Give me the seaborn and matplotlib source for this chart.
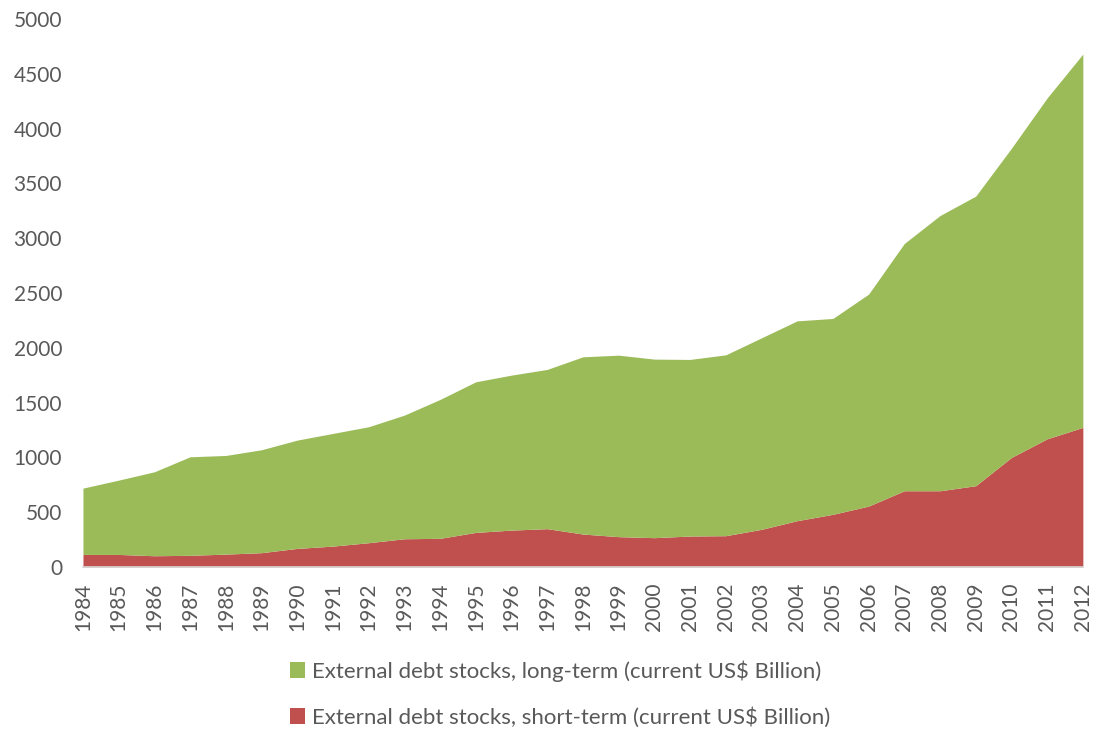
import matplotlib
matplotlib.use("Agg")
import matplotlib.pyplot as plt
from matplotlib.patches import Patch
import seaborn as sns
import pandas as pd

years = list(range(1984, 2013))
total = [720, 793, 869, 1006, 1018, 1070, 1158, 1219, 1280, 1386, 1529, 1690, 1751, 1803,
         1918, 1933, 1897, 1894, 1936, 2091, 2246, 2268, 2490, 2952, 3207, 3384, 3821, 4280, 4680]
short_term = [115, 115, 103, 107, 118, 131, 170, 191, 222, 258, 262, 316, 337, 350,
              301, 277, 268, 283, 286, 344, 423, 481, 556, 696, 696, 742, 1000, 1170, 1274]
long_term = [t - s for t, s in zip(total, short_term)]
labels = ["External debt stocks, long-term (current US$ Billion)",
          "External debt stocks, short-term (current US$ Billion)"]

df = pd.DataFrame({"year": years, "short": short_term, "long": long_term})

sns.set_theme(style="white")
plt.rcParams['font.family'] = ['Lato', 'DejaVu Sans']

green = "#9BBB59"
red = "#C0504D"
txt = "#595959"

fig = plt.figure(figsize=(10.96, 7.31), dpi=100)
ax = fig.add_axes([0.0757, 0.2243, 0.9123, 0.7497])

ax.stackplot(df["year"], df["short"], df["long"], colors=[red, green], linewidth=0)

ax.set_xlim(1984, 2012)
ax.set_ylim(0, 5000)
ax.set_yticks(range(0, 5001, 500))
ax.set_xticks(years)
ax.set_xticklabels([str(y) for y in years], rotation=90)
ax.tick_params(axis="both", length=0, labelsize=15, colors=txt)
ax.tick_params(axis="y", pad=15)
ax.tick_params(axis="x", pad=11)
for s in ["top", "right", "left"]:
    ax.spines[s].set_visible(False)
ax.spines["bottom"].set_color("#d9d9d9")
ax.spines["bottom"].set_linewidth(1.2)

handles = [Patch(facecolor=green, edgecolor="none"), Patch(facecolor=red, edgecolor="none")]
leg = fig.legend(handles, labels, loc="upper center", bbox_to_anchor=(0.511, 0.097),
                 frameon=False, fontsize=16, handlelength=0.7, handleheight=0.7,
                 handletextpad=0.3, labelspacing=1.15, labelcolor=txt,
                 borderpad=0, borderaxespad=0)

fig.savefig("out.png", dpi=100)
